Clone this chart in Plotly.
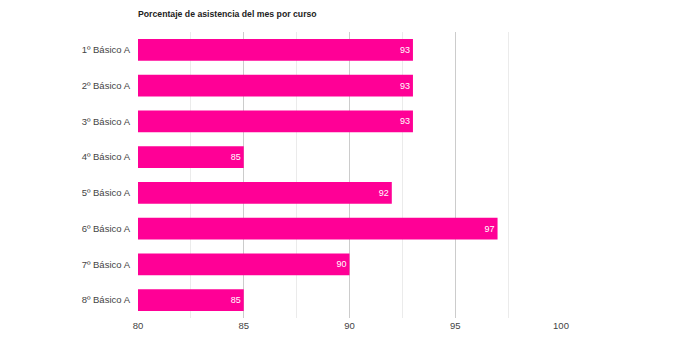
import plotly.graph_objects as go

cursos = ["1º Básico A", "2º Básico A", "3º Básico A", "4º Básico A",
          "5º Básico A", "6º Básico A", "7º Básico A", "8º Básico A"]
asistencia = [93, 93, 93, 85, 92, 97, 90, 85]
x_ticks = [80, 85, 90, 95, 100]

fig = go.Figure(go.Bar(
    y=cursos, x=asistencia, orientation="h",
    marker=dict(color="#FF0096", line=dict(width=0)),
    text=[str(v) for v in asistencia],
    textposition="inside", insidetextanchor="end",
    textfont=dict(color="white", size=9, family="Liberation Sans"),
    hoverinfo="skip",
))

fig.update_layout(
    width=700, height=346,
    margin=dict(l=138, r=139, t=32, b=28),
    paper_bgcolor="white", plot_bgcolor="white",
    font=dict(family="Liberation Sans", size=9, color="#444"),
    title=dict(text="<b>Porcentaje de asistencia del mes por curso</b>",
               x=138/700, xanchor="left", y=1-14/346, yanchor="middle",
               font=dict(size=8.7, color="#222")),
    bargap=0.385,
    showlegend=False,
)
fig.update_xaxes(range=[80, 100], tickvals=x_ticks, showgrid=True,
                 gridcolor="#cccccc", gridwidth=1, zeroline=False,
                 showline=False, ticks="", ticklen=0,
                 minor=dict(dtick=2.5, tick0=80, showgrid=True, gridcolor="#ebebeb"),
                 tickfont=dict(size=9.5, color="#444"))
fig.update_yaxes(autorange="reversed", showgrid=False, zeroline=False,
                 showline=False, ticks="", ticklabelstandoff=7,
                 tickfont=dict(size=9.5, color="#444"))

fig.write_html("out.html")
